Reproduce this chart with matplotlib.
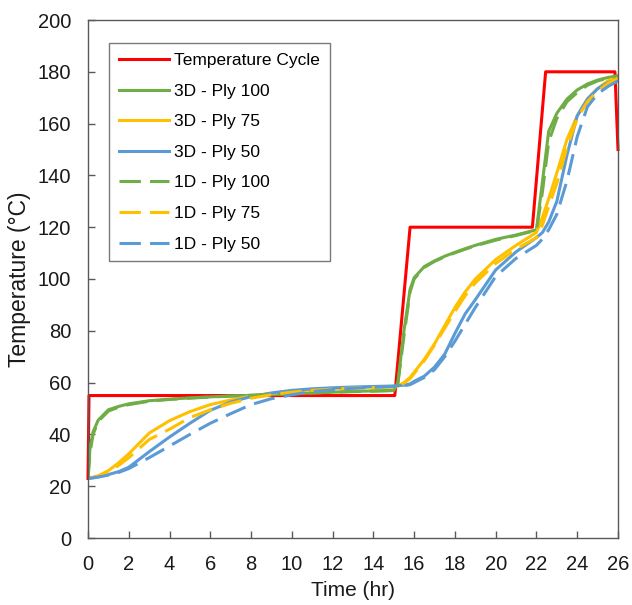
import numpy as np
import matplotlib
matplotlib.use("Agg")
from matplotlib import pyplot as plt

plt.rcParams['font.family'] = ['Liberation Sans', 'DejaVu Sans']

# Temperature cycle (oven set point)
cycle_t = [0, 0.05, 15.05, 15.8, 21.8, 22.45, 25.85, 26]
cycle_T = [23, 55, 55, 120, 120, 180, 180, 150]

# common time grid for the ply responses (hr)
time = [0, 0.1, 0.25, 0.5, 1, 1.5, 2, 3, 4, 5, 6, 7, 8, 9, 10, 11, 12, 13, 14, 15,
        15.2, 15.5, 15.8, 16, 16.5, 17, 17.5, 18, 18.5, 19, 20, 21, 22,
        22.3, 22.6, 23, 23.5, 24, 24.5, 25, 25.5, 26]

ply100_3d = [23, 35, 41, 45.5, 49.5, 50.8, 51.8, 53, 53.6, 54.1, 54.5, 54.8, 55.1, 55.4, 55.7, 56, 56.3, 56.6, 56.8, 57,
             60, 80, 96, 100.5, 104.8, 107, 108.8, 110.3, 111.7, 113, 115.3, 117, 119,
             138, 157, 164, 169.5, 173, 175.3, 176.8, 177.8, 178.5]
ply75_3d = [23, 23.2, 23.5, 24, 26, 29, 32.5, 40.5, 45.3, 48.8, 51.5, 53.3, 54.8, 55.8, 56.6, 57.2, 57.6, 58, 58.2, 58.4,
            58.6, 60, 62, 64, 69, 75, 82, 89, 95, 100, 107.5, 113, 118,
            124, 131, 141, 154, 163, 169.5, 173.5, 176.5, 178]
ply50_3d = [23, 23.1, 23.3, 23.7, 24.5, 25.6, 27.3, 33.3, 39, 44.3, 49.3, 52.5, 54.6, 56, 57, 57.6, 58, 58.3, 58.5, 58.7,
            58.8, 59, 59.5, 60.5, 62.5, 66, 71, 79, 86.5, 92, 103.5, 110.5, 116,
            118, 122, 130, 148, 163, 169.5, 173.5, 175.8, 177]
ply100_1d = [23, 33, 40, 45, 49, 50.5, 51.5, 52.8, 53.5, 54, 54.4, 54.8, 55.1, 55.4, 55.7, 56, 56.3, 56.5, 56.7, 56.9,
             59.5, 78, 95, 100, 104.5, 106.8, 108.6, 110.1, 111.5, 112.8, 115, 116.8, 118.8,
             134, 153, 162, 168.5, 172, 174.8, 176.5, 177.5, 178.3]
ply75_1d = [23, 23.2, 23.4, 23.8, 25.5, 28, 31, 38, 42, 46.5, 49.5, 52, 54, 55.3, 56.3, 57, 57.5, 57.9, 58.1, 58.3,
            58.5, 59.8, 61.5, 63.5, 68.5, 74.5, 81, 87.5, 93.5, 98.5, 106, 111.5, 116,
            121, 128, 137, 151, 162, 168.5, 172.5, 175.5, 177.5]
ply50_1d = [23, 23.1, 23.2, 23.5, 24.3, 25.3, 26.8, 31, 35.5, 40, 44.3, 48, 51.5, 53.8, 55.3, 56.5, 57.3, 57.8, 58.2, 58.5,
            58.6, 58.8, 59.2, 60, 62, 65, 70, 76, 82.5, 89, 101, 108, 113,
            115.5, 119, 125, 138, 155, 166.5, 171.5, 174.3, 176.5]

red = '#FF0000'
green = '#70AD47'
orange = '#FFC000'
blue = '#5B9BD5'
lw = 2.2
dash = (7, 3)

fig = plt.figure(figsize=(6.32, 6.05), dpi=100)
ax = fig.add_axes([88 / 632, 1 - 538 / 605, 530 / 632, 518 / 605])

ax.plot(cycle_t, cycle_T, color=red, lw=lw, label='Temperature Cycle', clip_on=False)
ax.plot(time, ply100_3d, color=green, lw=lw, label='3D - Ply 100')
ax.plot(time, ply75_3d, color=orange, lw=lw, label='3D - Ply 75')
ax.plot(time, ply50_3d, color=blue, lw=lw, label='3D - Ply 50')
ax.plot(time, ply100_1d, color=green, lw=lw, dashes=dash, label='1D - Ply 100')
ax.plot(time, ply75_1d, color=orange, lw=lw, dashes=dash, label='1D - Ply 75')
ax.plot(time, ply50_1d, color=blue, lw=lw, dashes=dash, label='1D - Ply 50')

ax.set_xlim(0, 26)
ax.set_ylim(0, 200)
ax.set_xticks(np.arange(0, 27, 2))
ax.set_yticks(np.arange(0, 201, 20))
ax.tick_params(direction='in', length=5, width=1, color='#595959', labelsize=14.5,
               labelcolor='#1a1a1a')
ax.tick_params(axis='y', pad=12)
ax.tick_params(axis='x', pad=12)
for s in ax.spines.values():
    s.set_color('#595959')
    s.set_linewidth(1)

ax.set_xlabel('Time (hr)', fontsize=15, color='#1a1a1a', labelpad=5)
ax.set_ylabel('Temperature (°C)', fontsize=16.5, color='#1a1a1a', labelpad=5)

leg = ax.legend(loc='upper left', bbox_to_anchor=(0.04, 0.955), fontsize=12.5,
                frameon=True, fancybox=False, edgecolor='#595959',
                handlelength=2.9, labelspacing=0.89, handletextpad=0.3,
                borderpad=0.55, borderaxespad=0)
leg.get_frame().set_linewidth(1)

fig.savefig('out.png', dpi=100)
